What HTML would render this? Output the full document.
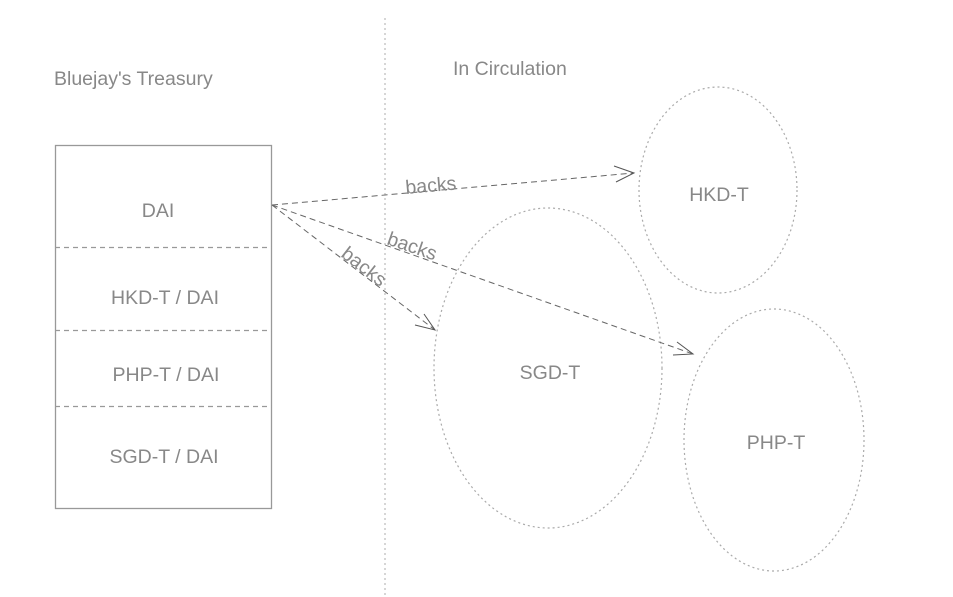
<!DOCTYPE html>
<html><head><meta charset="utf-8"><style>
html,body{margin:0;padding:0;background:#fff;}
svg{display:block;font-family:"Liberation Sans",sans-serif;}
</style></head><body>
<svg width="953" height="597" viewBox="0 0 953 597">
<line x1="385" y1="18" x2="385" y2="597" stroke="#bbb" stroke-width="1.2" stroke-dasharray="2,3"/>
<text x="54" y="85" font-size="19.5" fill="#888">Bluejay's Treasury</text>
<text x="453" y="75" font-size="19.5" fill="#888">In Circulation</text>
<rect x="55.5" y="145.5" width="216" height="363" fill="none" stroke="#999" stroke-width="1.3"/>
<g stroke="#999" stroke-width="1.3" stroke-dasharray="5,4">
<line x1="55" y1="247.5" x2="272" y2="247.5"/>
<line x1="55" y1="330.5" x2="272" y2="330.5"/>
<line x1="55" y1="406.5" x2="272" y2="406.5"/>
</g>
<g font-size="19.5" fill="#888" text-anchor="middle">
<text x="158" y="217">DAI</text>
<text x="165" y="304">HKD-T / DAI</text>
<text x="166" y="381">PHP-T / DAI</text>
<text x="164" y="463">SGD-T / DAI</text>
<text x="719" y="201">HKD-T</text>
<text x="550" y="379">SGD-T</text>
<text x="776" y="449">PHP-T</text>
</g>
<g fill="none" stroke="#aaa" stroke-width="1.2" stroke-dasharray="2,3">
<ellipse cx="718" cy="190" rx="79" ry="103"/>
<ellipse cx="548" cy="368" rx="114" ry="160"/>
<ellipse cx="774" cy="440" rx="90" ry="131"/>
</g>
<g fill="none" stroke="#666" stroke-width="1" stroke-dasharray="6,4">
<line x1="272" y1="205" x2="634" y2="173"/>
<line x1="272" y1="205" x2="435" y2="330"/>
<line x1="272" y1="205" x2="693" y2="354"/>
</g>
<g fill="none" stroke="#555" stroke-width="1">
<polyline points="614,166 634,173 616,182"/>
<polyline points="424,314 435,330 415,325"/>
<polyline points="677,342 693,354 673,355"/>
</g>
<g font-size="19.5" fill="#888">
<text x="0" y="0" transform="translate(406,194) rotate(-5)">backs</text>
<text x="0" y="0" transform="translate(386,244) rotate(19)">backs</text>
<text x="0" y="0" transform="translate(340,256) rotate(38)">backs</text>
</g>
</svg>
</body></html>
